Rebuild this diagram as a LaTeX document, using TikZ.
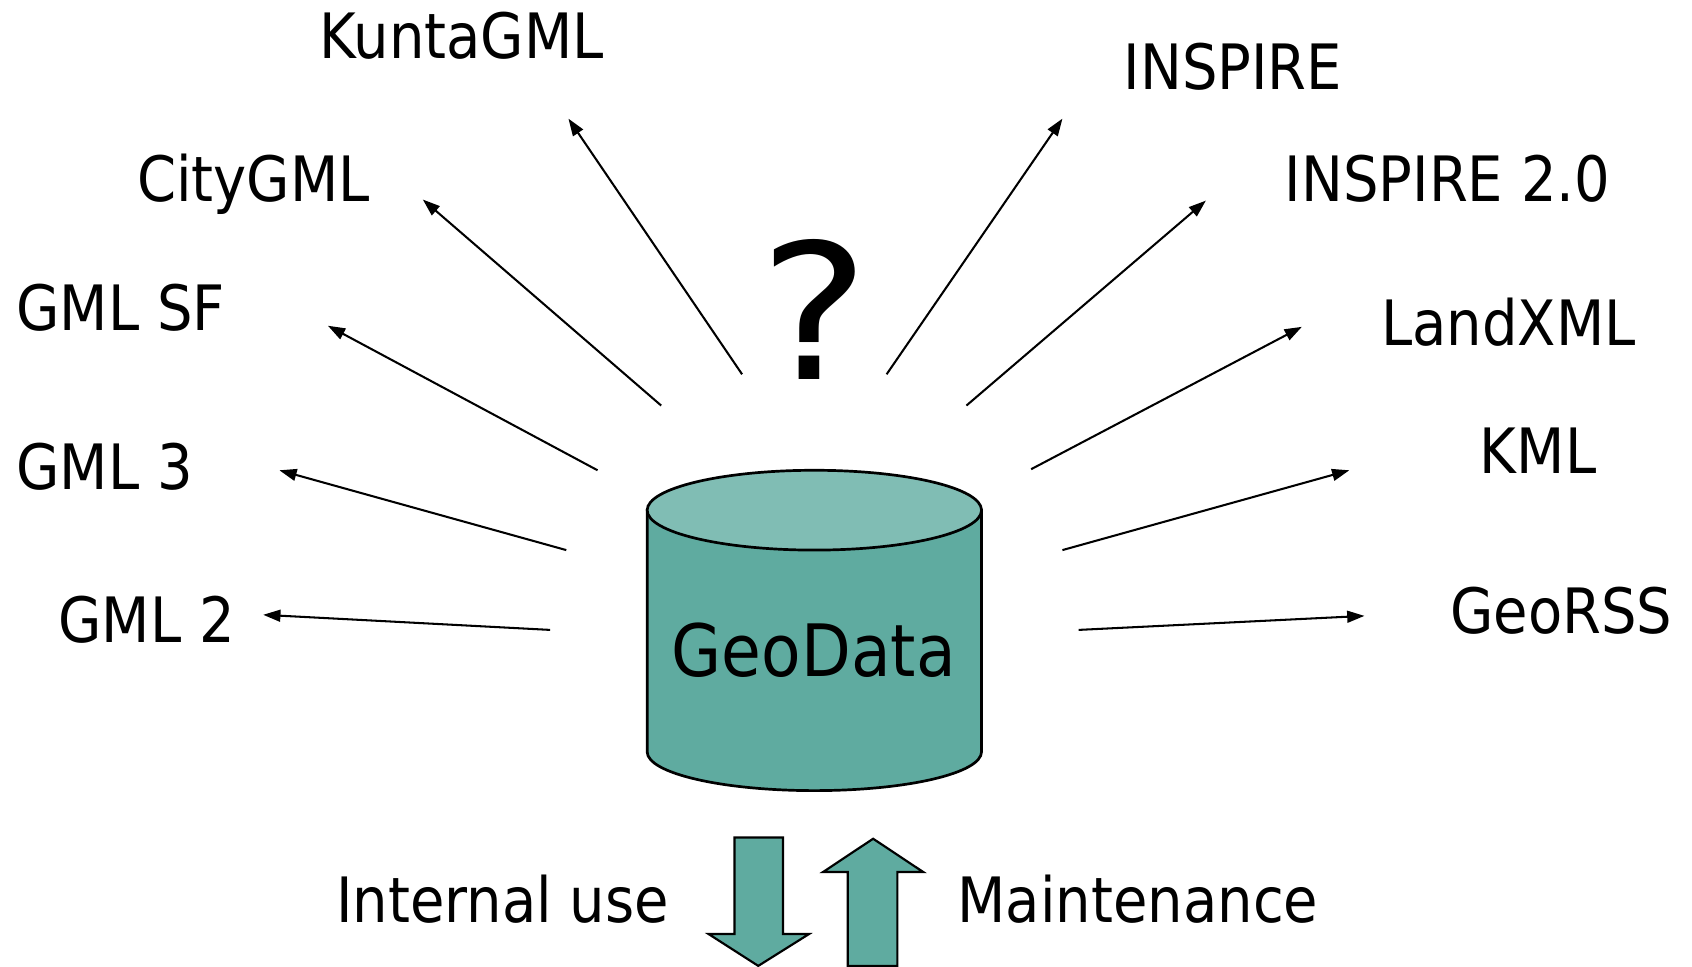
\documentclass[tikz,border=0pt]{standalone}
\usepackage{fontspec}
\setmainfont{DejaVu Sans}[FakeStretch=0.895]
\newfontfamily\qfont{DejaVu Sans}[FakeStretch=1.1]
\usetikzlibrary{arrows.meta}
\definecolor{cylbody}{RGB}{95,171,160}
\definecolor{cyltop}{RGB}{128,189,180}
\begin{document}
\begin{tikzpicture}[x=1pt,y=-1pt,
  arr/.style={line width=1.9pt,-{Triangle[length=16pt,width=11pt]}},
  lab/.style={font=\fontsize{58}{60}\selectfont,anchor=base,inner sep=0pt},
  bigarrow/.style={draw=black,line width=2pt,fill=cylbody,line join=miter}]
\useasboundingbox (0,0) rectangle (1568.7,896.5);
% cylinder
\draw[line width=2.5pt,fill=cylbody] (600,473) -- (600,697)
  arc[start angle=180,end angle=0,x radius=155,y radius=36] -- (910,473) -- cycle;
\draw[line width=2.5pt,fill=cyltop] (755,473) ellipse[x radius=155,y radius=37];
\node[font=\fontsize{67}{70}\selectfont,anchor=base,inner sep=0pt] (geo) at (754.5,627.4) {GeoData};
\node[font=\qfont\fontsize{175}{180}\selectfont,anchor=base,inner sep=0pt] (q) at (755,352) {?};
% labels
\node[lab] (kunta) at (428,54) {KuntaGML};
\node[lab] (city) at (235,187) {CityGML};
\node[lab] (sf) at (112,306) {GML SF};
\node[lab] (g3) at (97,454) {GML 3};
\node[lab] (g2) at (136,596) {GML 2};
\node[lab] (insp) at (1143,83.4) {INSPIRE};
\node[lab] (insp2) at (1342,187) {INSPIRE 2.0};
\node[lab] (land) at (1398.5,320) {LandXML};
\node[lab] (kml) at (1426,439) {KML};
\node[lab] (rss) at (1447.5,587.6) {GeoRSS};
\node[lab] (intern) at (466,855) {Internal use};
\node[lab] (maint) at (1055,855) {Maintenance};
% arrow end points
\coordinate (s1) at (688,347);  \coordinate (t1) at (527,110);
\coordinate (s2) at (613,376);  \coordinate (t2) at (392,185);
\coordinate (s3) at (554,436);  \coordinate (t3) at (304,302);
\coordinate (s4) at (525,510);  \coordinate (t4) at (259,436);
\coordinate (s5) at (510,584);  \coordinate (t5) at (244,570);
\coordinate (s6) at (822,347);  \coordinate (t6) at (985,110);
\coordinate (s7) at (896,376);  \coordinate (t7) at (1118,186);
\coordinate (s8) at (956,435);  \coordinate (t8) at (1207,303);
\coordinate (s9) at (985,510);  \coordinate (t9) at (1251,436);
\coordinate (s10) at (1000,584); \coordinate (t10) at (1265,571);
\foreach \i in {1,...,10} {\draw[arr] (s\i) -- (t\i);}
% big arrows
\draw[bigarrow] (681,776.5) -- (726,776.5) -- (726,866) -- (750,866) -- (703,895.5)
  -- (657,866) -- (681,866) -- cycle;
\draw[bigarrow] (809.5,777.6) -- (856,808.5) -- (832,808.5) -- (832,895.5)
  -- (786,895.5) -- (786,808.5) -- (763,808.5) -- cycle;
\end{tikzpicture}
\end{document}
